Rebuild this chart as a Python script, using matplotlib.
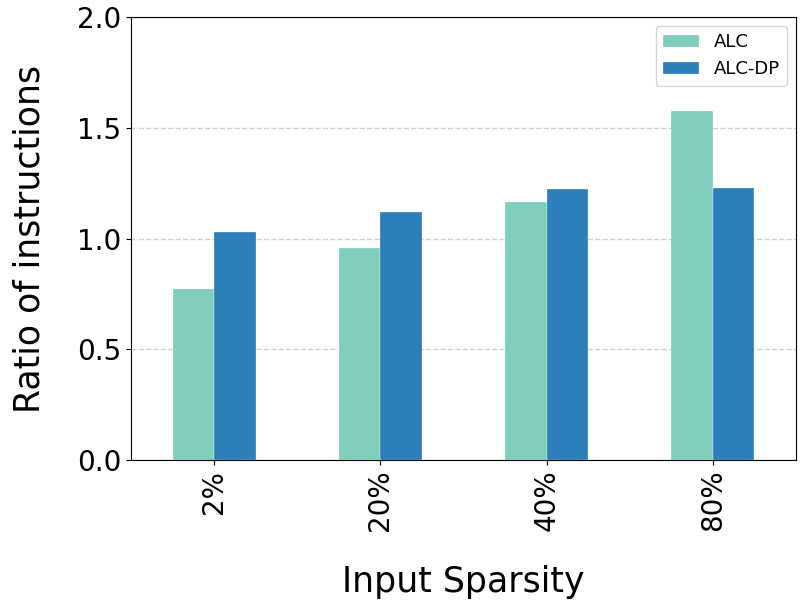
import matplotlib
matplotlib.use("Agg")
import matplotlib.pyplot as plt
import numpy as np

categories = ["2%", "20%", "40%", "80%"]
alc = [0.773, 0.958, 1.165, 1.577]
alc_dp = [1.031, 1.119, 1.222, 1.227]
series_names = ["ALC", "ALC-DP"]
colors = ["#7fcdbb", "#2c7fb8"]

fig = plt.figure(figsize=(8.01, 6.07), dpi=100)
ax = fig.add_axes([131/801, 1-460/607, (796-131)/801, (460-17)/607])

x = np.arange(len(categories))
w = 0.25
ax.bar(x - w/2, alc, w, color=colors[0], label=series_names[0], edgecolor="white", linewidth=0.2)
ax.bar(x + w/2, alc_dp, w, color=colors[1], label=series_names[1], edgecolor="white", linewidth=0.2)

ax.set_xlim(-0.5, 3.5)
ax.set_ylim(0, 2.0)
ax.set_yticks([0, 0.5, 1.0, 1.5, 2.0])
ax.set_yticklabels(["0.0", "0.5", "1.0", "1.5", "2.0"])
ax.set_xticks(x)
ax.set_xticklabels(categories, rotation=90)
ax.tick_params(axis="both", labelsize=20)
ax.yaxis.grid(True, linestyle="--", color="#d0d0d0", linewidth=1)
ax.set_axisbelow(True)
ax.set_xlabel("Input Sparsity", fontsize=25, labelpad=24)
ax.set_ylabel("Ratio of instructions", fontsize=25, labelpad=22)
ax.legend(loc="upper right", fontsize=13, borderaxespad=0.5)

fig.savefig("out.png", dpi=100)
